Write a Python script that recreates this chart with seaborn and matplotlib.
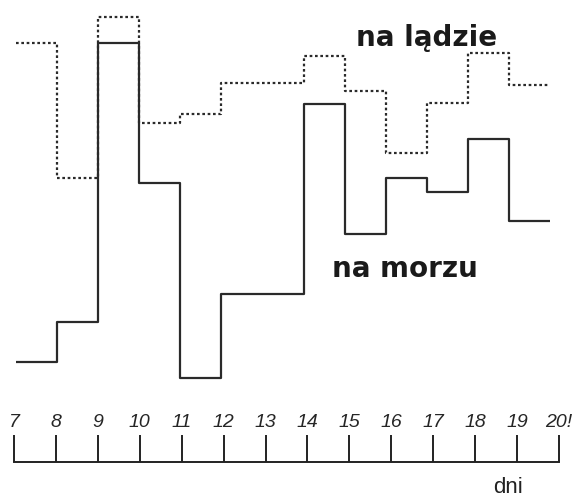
import numpy as np
import pandas as pd
import matplotlib
matplotlib.use("Agg")
import matplotlib.pyplot as plt
import seaborn as sns

sns.set_style("white")

# data (arbitrary units)
days = [7, 8, 9, 10, 11, 12, 13, 14, 15, 16, 17, 18, 19]
na_morzu = [3.8, 7.8, 35.7, 21.7, 2.2, 10.6, 10.6, 29.6, 16.6, 22.2, 20.8, 26.1, 17.9]
na_ladzie = [35.7, 22.2, 38.3, 27.7, 28.6, 31.7, 31.7, 34.4, 30.9, 24.7, 29.7, 34.7, 31.5]
tick_days = list(range(7, 21))
tick_labels = ["7", "8", "9", "10", "11", "12", "13", "14", "15", "16", "17", "18", "19", "20!"]

# repeat last value so the last step reaches day 20
x_steps = days + [20]
df = pd.DataFrame({
    "day": x_steps + x_steps,
    "value": na_morzu + [na_morzu[-1]] + na_ladzie + [na_ladzie[-1]],
    "seria": ["na morzu"] * len(x_steps) + ["na lądzie"] * len(x_steps),
})

W, H = 583, 499
fig = plt.figure(figsize=(W / 100, H / 100), dpi=100)

# step curves
ax = fig.add_axes([16 / W, (H - 390) / H, 534 / W, 385 / H])
sns.lineplot(data=df[df.seria == "na morzu"], x="day", y="value", ax=ax,
             color="#2a2a2a", linewidth=1.6, drawstyle="steps-post")
sns.lineplot(data=df[df.seria == "na lądzie"], x="day", y="value", ax=ax,
             color="#2a2a2a", linewidth=1.6, linestyle=(0, (1.2, 1.2)),
             drawstyle="steps-post")
ax.set_xlim(7, 20)
ax.set_ylim(1, 39.5)
ax.set_axis_off()

# day ruler
axr = fig.add_axes([14 / W, (H - 462) / H, 545 / W, 30 / H])
axr.set_xlim(7, 20)
axr.set_ylim(0, 1)
axr.set_xticks(tick_days)
axr.set_xticklabels(tick_labels, fontsize=14, fontstyle="italic",
                    family="Liberation Sans")
axr.set_yticks([])
for s in ["top", "left", "right"]:
    axr.spines[s].set_visible(False)
axr.spines["bottom"].set_linewidth(1.4)
axr.spines["bottom"].set_color("#222222")
axr.tick_params(axis="x", direction="in", length=19.5, width=1.4, color="#222222",
                bottom=True, top=False, labelbottom=False, labeltop=True, pad=1)
axr.set_xlabel("")
axr.set_facecolor("none")

# labels
fig.text(356 / W, 1 - 46 / H, "na lądzie", fontsize=20, fontweight="bold",
         color="#1a1a1a", ha="left", va="baseline")
fig.text(332 / W, 1 - 277 / H, "na morzu", fontsize=20, fontweight="bold",
         color="#1a1a1a", ha="left", va="baseline")
fig.text(493 / W, 1 - 493 / H, "dni", fontsize=16, family="Liberation Sans",
         color="#222222", ha="left", va="baseline")

fig.savefig("out.png", dpi=100)
